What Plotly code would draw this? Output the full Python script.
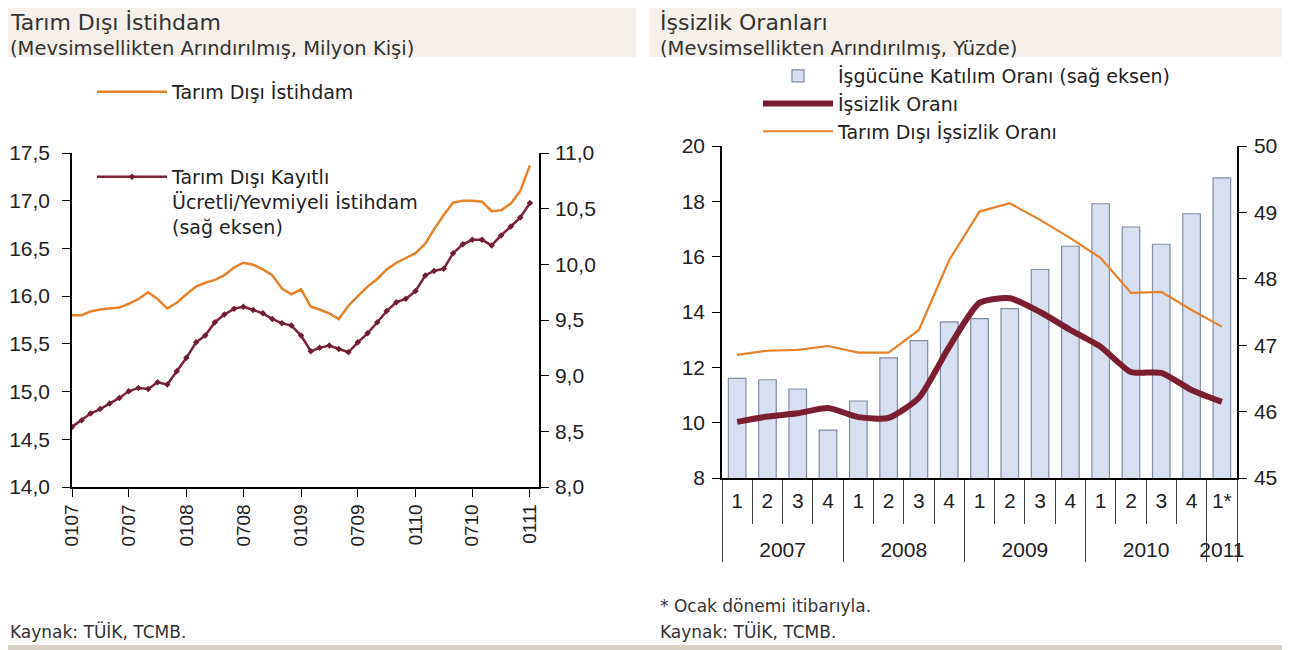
import plotly.graph_objects as go
import pandas as pd

# ---------------- Left chart data (monthly, Jan 2007 - Jan 2011) ----------------
months = pd.date_range("2007-01-01", "2011-01-01", freq="MS")
nonfarm_emp = [15.80, 15.80, 15.84, 15.86, 15.87, 15.88, 15.92, 15.97, 16.04, 15.97,
               15.87, 15.93, 16.02, 16.10, 16.14, 16.17, 16.22, 16.30, 16.35, 16.33,
               16.28, 16.22, 16.08, 16.02, 16.07, 15.89, 15.86, 15.82, 15.76, 15.90,
               16.00, 16.10, 16.18, 16.28, 16.35, 16.40, 16.45, 16.55, 16.70, 16.85,
               16.98, 17.00, 17.00, 16.99, 16.89, 16.90, 16.97, 17.10, 17.37]
registered_emp = [8.54, 8.60, 8.66, 8.70, 8.75, 8.80, 8.86, 8.89, 8.88, 8.94,
                  8.92, 9.04, 9.16, 9.30, 9.36, 9.48, 9.55, 9.60, 9.62, 9.59,
                  9.56, 9.51, 9.47, 9.45, 9.36, 9.22, 9.25, 9.27, 9.24, 9.21,
                  9.30, 9.38, 9.48, 9.58, 9.66, 9.69, 9.76, 9.90, 9.94, 9.96,
                  10.10, 10.18, 10.22, 10.22, 10.17, 10.26, 10.34, 10.42, 10.55]

# ---------------- Right chart data (quarterly) ----------------
years = ["2007"] * 4 + ["2008"] * 4 + ["2009"] * 4 + ["2010"] * 4 + ["2011"]
quarters = ["1", "2", "3", "4"] * 4 + ["1*"]
participation = [46.50, 46.48, 46.34, 45.72, 46.16, 46.81, 47.07, 47.35, 47.40,
                 47.55, 48.14, 48.49, 49.13, 48.78, 48.52, 48.98, 49.52]
unemployment = [10.03, 10.22, 10.34, 10.53, 10.20, 10.17, 10.90, 12.74, 14.33,
                14.50, 14.00, 13.35, 12.74, 11.83, 11.80, 11.18, 10.75]
nonfarm_unemp = [12.45, 12.60, 12.63, 12.77, 12.53, 12.53, 13.35, 15.88, 17.63,
                 17.93, 17.33, 16.67, 15.95, 14.69, 14.73, 14.07, 13.47]

# year labels are pushed one line down so they sit below the quarter row
year_labels = ["<br>" + y for y in years]

W, H = 1290, 650
OX, OY = 8, 8          # page offset of the plot div
TXT = "#222222"
FAM = "Liberation Sans, Arial, sans-serif"
LEGFAM = "DejaVu Sans, sans-serif"
TICKFONT = dict(family=FAM, size=21, color=TXT)
TITLEFONT = "DejaVu Sans, sans-serif"


def px(x):
    return (x - OX) / W


def py(y):
    return 1 - (y - OY) / H


fig = go.Figure()

fig.add_trace(go.Scatter(
    x=months, y=nonfarm_emp, name="Tarım Dışı İstihdam", mode="lines",
    line=dict(color="#E8822A", width=2.5), xaxis="x", yaxis="y", legend="legend"))
fig.add_trace(go.Scatter(
    x=months, y=registered_emp,
    name="Tarım Dışı Kayıtlı<br>Ücretli/Yevmiyeli İstihdam<br>(sağ eksen)",
    mode="lines+markers", line=dict(color="#7B2338", width=2.5),
    marker=dict(size=5, symbol="diamond", color="#6E1E30"),
    xaxis="x", yaxis="y2", legend="legend2"))

fig.add_trace(go.Bar(
    x=[year_labels, quarters], y=participation, name="İşgücüne Katılım Oranı (sağ eksen)",
    marker=dict(color="#D6E0F0", line=dict(color="#7F8CA3", width=1.2)),
    xaxis="x2", yaxis="y3", legend="legend3"))
fig.add_trace(go.Scatter(
    x=[year_labels, quarters], y=unemployment, name="İşsizlik Oranı", mode="lines",
    line=dict(color="#7B1F30", width=6, shape="spline", smoothing=0.6),
    xaxis="x2", yaxis="y4", legend="legend3"))
fig.add_trace(go.Scatter(
    x=[year_labels, quarters], y=nonfarm_unemp, name="Tarım Dışı İşsizlik Oranı", mode="lines",
    line=dict(color="#E8822A", width=2.2),
    xaxis="x2", yaxis="y4", legend="legend3"))

axis_common = dict(showline=True, linecolor="black", linewidth=1.5, showgrid=False,
                   zeroline=False, ticks="outside", tickcolor="black", ticklen=8,
                   tickfont=TICKFONT, automargin=False)

fig.update_layout(
    width=W, height=H, autosize=False, margin=dict(l=0, r=0, t=0, b=0, pad=0),
    paper_bgcolor="white", plot_bgcolor="rgba(0,0,0,0)",
    separators=",.", showlegend=True,
    xaxis=dict(domain=[px(72), px(539)], anchor="y", type="date",
               range=["2007-01-01", "2011-01-30"], tickformat="%m%y",
               dtick="M6", tick0="2007-01-01", tickangle=-90,
               **{**axis_common, "tickfont": dict(family=FAM, size=19, color=TXT)}),
    yaxis=dict(domain=[py(487), py(153)], anchor="x", range=[14, 17.5], dtick=0.5,
               tickformat=".1f", ticklabelstandoff=8, **axis_common),
    yaxis2=dict(overlaying="y", anchor="x", side="right", range=[8, 11], dtick=0.5,
                tickformat=".1f", ticklabelstandoff=2, **axis_common),
    xaxis2=dict(domain=[px(722), px(1237)], anchor="y3", type="multicategory",
                showline=True, linecolor="black", linewidth=1.5, showgrid=False,
                ticks="outside", tickson="boundaries", ticklen=44, tickcolor="#444444",
                showdividers=True, dividercolor="#444444", dividerwidth=1,
                ticklabelstandoff=3, tickfont=TICKFONT, automargin=False),
    yaxis3=dict(domain=[py(478), py(146)], anchor="x2", side="right", range=[45, 50],
                dtick=1, ticklabelstandoff=3, **axis_common),
    yaxis4=dict(overlaying="y3", anchor="x2", side="left", range=[8, 20], dtick=2,
                ticklabelstandoff=3, **axis_common),
    bargap=0.42,
    legend=dict(x=px(92), y=py(73), xanchor="left", yanchor="top", itemwidth=70,
                bgcolor="rgba(0,0,0,0)", font=dict(family=LEGFAM, size=19, color=TXT)),
    legend2=dict(x=px(92), y=py(158), xanchor="left", yanchor="top", valign="top",
                 itemwidth=70,
                 bgcolor="rgba(0,0,0,0)", font=dict(family=LEGFAM, size=19, color=TXT)),
    legend3=dict(x=px(758), y=py(57), xanchor="left", yanchor="top", tracegroupgap=0,
                 itemwidth=70,
                 bgcolor="rgba(0,0,0,0)", font=dict(family=LEGFAM, size=19, color=TXT)),
)

# background bands
fig.add_shape(type="rect", xref="paper", yref="paper", x0=0, x1=px(636), y0=py(57), y1=1,
              fillcolor="#F5F1EA", line_width=0, layer="below")
fig.add_shape(type="rect", xref="paper", yref="paper", x0=px(650), x1=1, y0=py(57), y1=1,
              fillcolor="#F5F1EA", line_width=0, layer="below")
fig.add_shape(type="rect", xref="paper", yref="paper", x0=0, x1=1, y0=0, y1=py(645),
              fillcolor="#D8D0C4", line_width=0, layer="below")


def note(x, y, text, size, anchor="middle", family=TITLEFONT, color="#333333"):
    fig.add_annotation(x=px(x), y=py(y), xref="paper", yref="paper", text=text,
                       showarrow=False, xanchor="left", yanchor=anchor,
                       font=dict(family=family, size=size, color=color))


note(8, 8, "Tarım Dışı İstihdam", 22, anchor="top")
note(8, 35, "(Mevsimsellikten Arındırılmış, Milyon Kişi)", 19.5, anchor="top")
note(658, 8, "İşsizlik Oranları", 22, anchor="top")
note(658, 35, "(Mevsimsellikten Arındırılmış, Yüzde)", 19.5, anchor="top")
note(8, 631, "Kaynak: TÜİK, TCMB.", 17)
note(658, 606, "* Ocak dönemi itibarıyla.", 17)
note(658, 631, "Kaynak: TÜİK, TCMB.", 17)

fig.write_html("out.html")
